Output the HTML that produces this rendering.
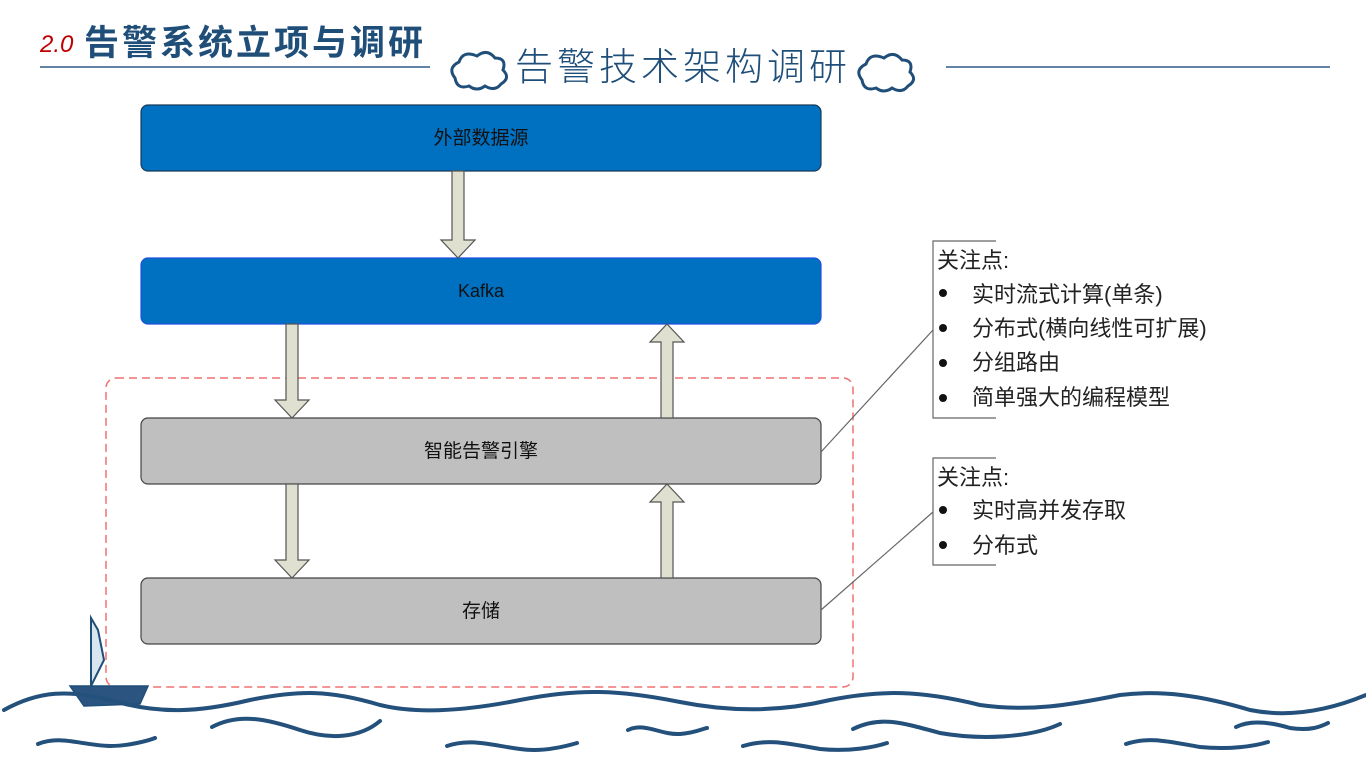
<!DOCTYPE html>
<html><head><meta charset="utf-8"><style>
html,body{margin:0;padding:0;background:#fff;}
svg{display:block}
text{font-family:"Liberation Sans","Noto Sans CJK SC",sans-serif;}
</style></head><body>
<svg width="1366" height="768" viewBox="0 0 1366 768" xmlns="http://www.w3.org/2000/svg">
<!-- header -->
<text x="40" y="52" font-size="24" fill="#c00000" font-family="Liberation Sans,sans-serif" font-style="italic">2.0</text>
<text x="84" y="55" font-size="35" fill="#1f4e79" letter-spacing="3" font-family="'WenQuanYi Zen Hei','Noto Sans CJK SC',sans-serif" font-weight="bold">告警系统立项与调研</text>
<line x1="40" y1="67" x2="430" y2="67" stroke="#2e5a87" stroke-width="1.5"/>
<line x1="946" y1="67" x2="1330" y2="67" stroke="#2e5a87" stroke-width="1.5"/>
<g fill="none" stroke="#1f4e79" stroke-width="3">
<path d="M455 78 q-8 -10 4 -16 q4 -12 18 -6 q10 -8 18 2 q12 0 8 12 q8 8 -2 14 q-6 8 -16 2 q-8 6 -16 0 q-12 4 -14 -8z"/>
<path d="M862 80 q-8 -10 4 -16 q4 -12 18 -6 q10 -8 18 2 q12 0 8 12 q8 8 -2 14 q-6 8 -16 2 q-8 6 -16 0 q-12 4 -14 -8z"/>
</g>
<text x="515" y="80" font-size="38" fill="#1f4e79" letter-spacing="4" font-family="'Noto Sans CJK SC',sans-serif" font-weight="300">告警技术架构调研</text>

<!-- dashed group -->
<rect x="106" y="378" width="747" height="309" rx="10" fill="none" stroke="#f07070" stroke-width="1.5" stroke-dasharray="8,5"/>

<!-- boxes -->
<rect x="141" y="105" width="680" height="66" rx="7" fill="#0070c0" stroke="#1a3a5a" stroke-width="1.2"/>
<rect x="141" y="258" width="680" height="66" rx="7" fill="#0070c0" stroke="#2050e0" stroke-width="1.2"/>
<rect x="141" y="418" width="680" height="66" rx="7" fill="#bfbfbf" stroke="#444" stroke-width="1.2"/>
<rect x="141" y="578" width="680" height="66" rx="7" fill="#bfbfbf" stroke="#444" stroke-width="1.2"/>
<g font-size="19" fill="#111" text-anchor="middle" font-family="'Liberation Serif','Noto Serif CJK SC',serif">
<text x="481" y="144">外部数据源</text>
<text x="481" y="297" font-family="'Liberation Mono',monospace" font-size="18">Kafka</text>
<text x="481" y="457">智能告警引擎</text>
<text x="481" y="617">存储</text>
</g>

<!-- arrows -->
<g fill="#dfe0cf" stroke="#555" stroke-width="1.2">
<path d="M452 171 V240 H441 L458 258 L475 240 H464 V171Z"/>
<path d="M286 324 V400 H275 L292 418 L309 400 H298 V324Z"/>
<path d="M286 484 V560 H275 L292 578 L309 560 H298 V484Z"/>
<path d="M661 418 V342 H650 L667 324 L684 342 H673 V418Z"/>
<path d="M661 578 V502 H650 L667 484 L684 502 H673 V578Z"/>
</g>

<!-- callouts -->
<g stroke="#666" stroke-width="1.2" fill="none">
<line x1="821" y1="452" x2="933" y2="330"/>
<line x1="821" y1="610" x2="933" y2="512"/>
<path d="M996 241 H933 V418 H996"/>
<path d="M996 458 H933 V565 H996"/>
</g>
<g font-size="22" fill="#222" font-family="'Noto Serif CJK SC','Liberation Serif',serif">
<text x="937" y="268">关注点:</text>
<text x="972" y="302">实时流式计算(单条)</text>
<text x="972" y="336">分布式(横向线性可扩展)</text>
<text x="972" y="370">分组路由</text>
<text x="972" y="405">简单强大的编程模型</text>
<text x="937" y="485">关注点:</text>
<text x="972" y="518">实时高并发存取</text>
<text x="972" y="553">分布式</text>
</g>
<g fill="#111">
<circle cx="943" cy="293" r="4"/><circle cx="943" cy="328" r="4"/><circle cx="943" cy="363" r="4"/><circle cx="943" cy="398" r="4"/>
<circle cx="943" cy="510" r="4"/><circle cx="943" cy="545" r="4"/>
</g>

<!-- boat -->
<path d="M91 618 L91 686 L104 660 L98 630Z" fill="#d8e6f0" stroke="#1f4e79" stroke-width="2"/>
<path d="M70 686 H148 L140 704 L84 706Z" fill="#2b5580" stroke="#1f4e79" stroke-width="1.5"/>

<!-- waves -->
<g fill="none" stroke="#24507c" stroke-width="4" stroke-linecap="round">
<path d="M4 710 C40 690 70 690 110 700 C160 715 200 712 250 700 C300 690 330 690 380 705 C420 715 470 710 520 700 C580 688 620 690 680 702 C730 712 780 712 830 700 C880 690 920 690 980 705 C1030 712 1070 705 1120 695 C1160 690 1200 695 1250 710 C1290 718 1330 710 1366 695"/>
<path d="M212 727 C240 712 270 720 300 730 C330 740 360 738 380 721"/>
<path d="M38 744 C60 735 80 745 110 746 C130 746 150 740 155 738"/>
<path d="M447 746 C470 738 490 745 520 749 C540 752 560 748 577 743"/>
<path d="M628 730 C645 722 660 735 680 734 C695 733 705 728 707 728"/>
<path d="M853 729 C880 716 900 722 940 733 C980 740 1030 738 1060 724"/>
<path d="M1236 727 C1250 720 1270 722 1290 728 C1310 731 1320 727 1328 723"/>
<path d="M743 746 C770 738 790 744 820 749 C850 752 875 747 887 743"/>
<path d="M1126 744 C1150 736 1170 742 1200 747 C1230 750 1255 746 1268 742"/>
</g>
</svg>
</body></html>
